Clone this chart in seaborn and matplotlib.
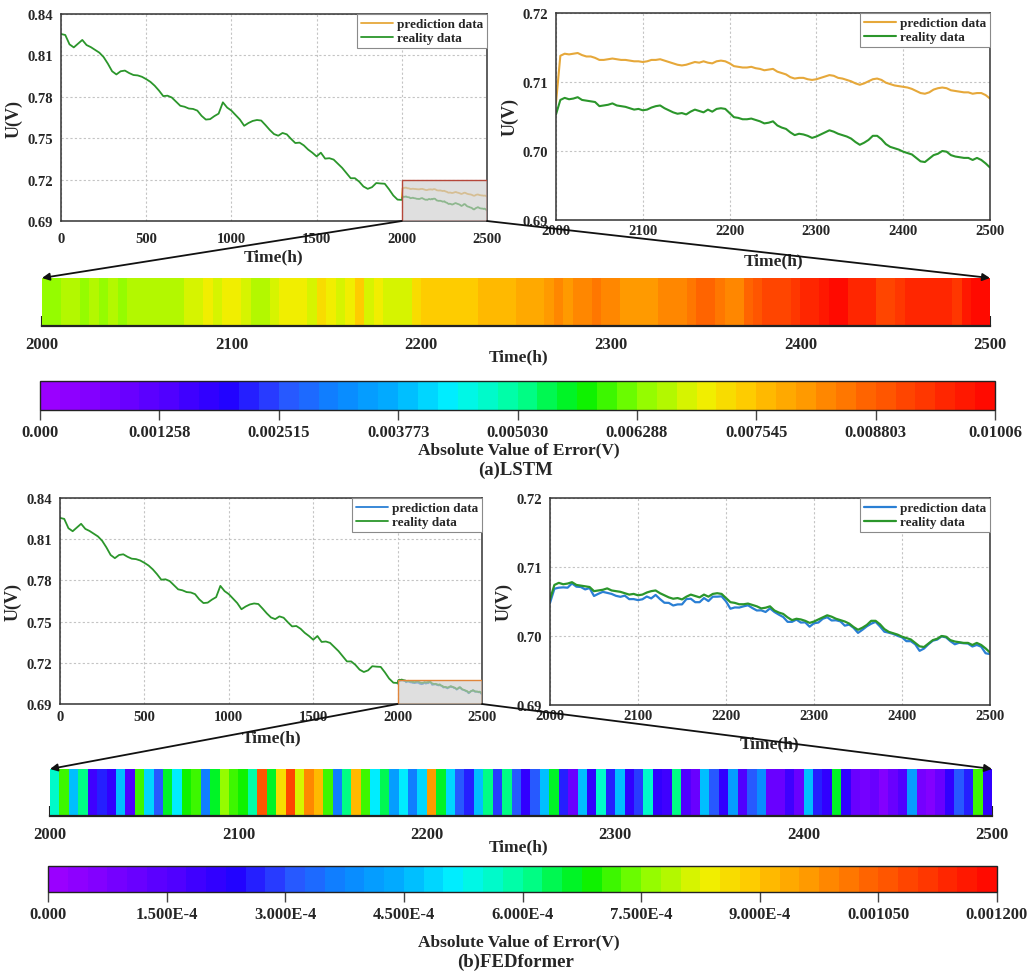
import numpy as np
import matplotlib
matplotlib.use("Agg")
import matplotlib.pyplot as plt
import seaborn as sns
from matplotlib.colors import LinearSegmentedColormap, ListedColormap, Normalize
from matplotlib.cm import ScalarMappable
from matplotlib.patches import Rectangle, ConnectionPatch

# ---------------------------------------------------------------- data
# Stack voltage, 0-1975 h (25 h spacing)
hours_coarse = np.arange(0, 2000, 25)
voltage_coarse = [
    0.8255, 0.8248, 0.8180, 0.8158, 0.8185, 0.8212, 0.8175, 0.8160, 0.8140, 0.8120,
    0.8088, 0.8040, 0.7985, 0.7962, 0.7985, 0.7990, 0.7972, 0.7958, 0.7955, 0.7945,
    0.7928, 0.7908, 0.7880, 0.7845, 0.7805, 0.7808, 0.7795, 0.7765, 0.7735, 0.7728,
    0.7715, 0.7712, 0.7700, 0.7662, 0.7635, 0.7638, 0.7660, 0.7678, 0.7760, 0.7722,
    0.7700, 0.7668, 0.7635, 0.7590, 0.7610, 0.7625, 0.7632, 0.7628, 0.7595, 0.7560,
    0.7530, 0.7518, 0.7538, 0.7528, 0.7495, 0.7465, 0.7468, 0.7448, 0.7418, 0.7395,
    0.7368, 0.7395, 0.7352, 0.7355, 0.7345, 0.7315, 0.7285, 0.7248, 0.7210, 0.7210,
    0.7185, 0.7150, 0.7133, 0.7145, 0.7175, 0.7172, 0.7170, 0.7130, 0.7085, 0.7055,
]

# Test window 2000-2500 h (5 h spacing)
hours_test = np.arange(2000, 2501, 5)
voltage_test = [
    0.7053, 0.7074, 0.7077, 0.7075, 0.7076, 0.7078, 0.7074, 0.7073, 0.7072, 0.7071,
    0.7065, 0.7066, 0.7067, 0.7069, 0.7066, 0.7065, 0.7064, 0.7062, 0.7060, 0.7061,
    0.7059, 0.7060, 0.7063, 0.7065, 0.7066, 0.7062, 0.7059, 0.7056, 0.7054, 0.7055,
    0.7053, 0.7057, 0.7060, 0.7058, 0.7056, 0.7060, 0.7057, 0.7061, 0.7062, 0.7061,
    0.7055, 0.7049, 0.7048, 0.7046, 0.7046, 0.7047, 0.7045, 0.7043, 0.7040, 0.7041,
    0.7043, 0.7037, 0.7034, 0.7032, 0.7027, 0.7023, 0.7025, 0.7024, 0.7022, 0.7019,
    0.7021, 0.7024, 0.7027, 0.7030, 0.7028, 0.7025, 0.7023, 0.7021, 0.7018, 0.7013,
    0.7009, 0.7012, 0.7016, 0.7022, 0.7022, 0.7017, 0.7010, 0.7006, 0.7004, 0.7002,
    0.6999, 0.6997, 0.6995, 0.6990, 0.6985, 0.6984, 0.6989, 0.6994, 0.6996, 0.7000,
    0.6999, 0.6994, 0.6992, 0.6991, 0.6990, 0.6990, 0.6987, 0.6990, 0.6987, 0.6982,
    0.6976,
]
lstm_prediction = [
    0.7070, 0.7138, 0.7141, 0.7140, 0.7141, 0.7142, 0.7139, 0.7137, 0.7137, 0.7135,
    0.7132, 0.7132, 0.7133, 0.7134, 0.7133, 0.7132, 0.7132, 0.7131, 0.7130, 0.7130,
    0.7129, 0.7130, 0.7132, 0.7132, 0.7133, 0.7131, 0.7129, 0.7127, 0.7125, 0.7124,
    0.7125, 0.7127, 0.7129, 0.7128, 0.7130, 0.7128, 0.7127, 0.7130, 0.7131, 0.7130,
    0.7127, 0.7123, 0.7122, 0.7121, 0.7121, 0.7122, 0.7120, 0.7119, 0.7117, 0.7118,
    0.7119, 0.7115, 0.7113, 0.7111, 0.7107, 0.7105, 0.7106, 0.7106, 0.7104, 0.7103,
    0.7104, 0.7106, 0.7108, 0.7110, 0.7109, 0.7106, 0.7105, 0.7103, 0.7101, 0.7098,
    0.7096, 0.7098, 0.7101, 0.7104, 0.7105, 0.7103, 0.7099, 0.7097, 0.7095, 0.7094,
    0.7093, 0.7092, 0.7090, 0.7087, 0.7084, 0.7083, 0.7085, 0.7089, 0.7091, 0.7092,
    0.7091, 0.7088, 0.7087, 0.7086, 0.7085, 0.7085, 0.7083, 0.7084, 0.7084, 0.7081,
    0.7076,
]
# FEDformer absolute error over the same window (V)
fedformer_error = [
    0.00050,
    0.00055, 0.00070, 0.00045, 0.00060, 0.00018, 0.00025, 0.00020, 0.00045, 0.00015, 0.00070,
    0.00048, 0.00030, 0.00065, 0.00050, 0.00068, 0.00072, 0.00035, 0.00066, 0.00075, 0.00070,
    0.00068, 0.00058, 0.00105, 0.00065, 0.00085, 0.00108, 0.00080, 0.00098, 0.00092, 0.00072,
    0.00035, 0.00060, 0.00090, 0.00070, 0.00050, 0.00064, 0.00040, 0.00050, 0.00035, 0.00048,
    0.00095, 0.00066, 0.00048, 0.00030, 0.00025, 0.00045, 0.00060, 0.00028, 0.00062, 0.00030,
    0.00022, 0.00030, 0.00045, 0.00065, 0.00025, 0.00012, 0.00045, 0.00022, 0.00055, 0.00025,
    0.00045, 0.00020, 0.00028, 0.00055, 0.00022, 0.00018, 0.00060, 0.00015, 0.00012, 0.00045,
    0.00030, 0.00020, 0.00042, 0.00015, 0.00032, 0.00038, 0.00012, 0.00010, 0.00018, 0.00010,
    0.00045, 0.00025, 0.00020, 0.00065, 0.00022, 0.00010, 0.00008, 0.00012, 0.00006, 0.00010,
    0.00015, 0.00040, 0.00008, 0.00005, 0.00010, 0.00022, 0.00030, 0.00025, 0.00070, 0.00022,
]

overview_xticks = [0, 500, 1000, 1500, 2000, 2500]
overview_yticks = [0.69, 0.72, 0.75, 0.78, 0.81, 0.84]
detail_xticks = [2000, 2100, 2200, 2300, 2400, 2500]
detail_yticks = [0.69, 0.70, 0.71, 0.72]

lstm_vmax = 0.01006
lstm_cbar_labels = ["0.000", "0.001258", "0.002515", "0.003773", "0.005030",
                    "0.006288", "0.007545", "0.008803", "0.01006"]
fed_vmax = 0.0012
fed_cbar_labels = ["0.000", "1.500E-4", "3.000E-4", "4.500E-4", "6.000E-4",
                   "7.500E-4", "9.000E-4", "0.001050", "0.001200"]

hours_full = np.concatenate([hours_coarse, hours_test])
voltage_full = np.concatenate([voltage_coarse, voltage_test])
voltage_test = np.asarray(voltage_test)
lstm_prediction = np.asarray(lstm_prediction)
fedformer_error = np.asarray(fedformer_error)
fed_prediction = voltage_test - fedformer_error
lstm_error = np.abs(lstm_prediction - voltage_test)

# ---------------------------------------------------------------- style
sns.set_style("white")
plt.rcParams["font.family"] = ["Liberation Serif", "DejaVu Serif"]
plt.rcParams["font.weight"] = "bold"
plt.rcParams["axes.labelweight"] = "bold"

GREEN = "#2b962b"
GOLD = "#e6a83a"
BLUE = "#2a7fd4"

cmap_nodes = [
    (0.000, "#9a00ff"), (0.125, "#5000ff"), (0.190, "#2200ff"), (0.250, "#2a55ff"),
    (0.310, "#0a88ff"), (0.375, "#00b4ff"), (0.430, "#00f5ff"), (0.500, "#00ff9a"),
    (0.570, "#00f000"), (0.625, "#80ff00"), (0.700, "#f0f000"), (0.750, "#ffc800"),
    (0.875, "#ff6400"), (1.000, "#ff0a00"),
]
smooth = LinearSegmentedColormap.from_list("err", cmap_nodes)
error_cmap = ListedColormap(smooth(np.linspace(0, 1, 48)))

W, H = 1027, 978
fig = plt.figure(figsize=(W / 100, H / 100), dpi=100)


def px_box(x0, y0, x1, y1):
    return [x0 / W, 1 - y1 / H, (x1 - x0) / W, (y1 - y0) / H]


def style_panel(ax, xticks, yticks, yfmt, xpad):
    ax.set_xticks(xticks)
    ax.set_yticks(yticks)
    ax.set_xticklabels([str(t) for t in xticks])
    ax.set_yticklabels([yfmt.format(t) for t in yticks])
    ax.grid(True, color="#c4c4c4", linestyle=(0, (2, 2)), linewidth=0.8)
    ax.tick_params(length=0, labelsize=10.5, pad=6)
    ax.tick_params(axis="x", pad=xpad)
    for s in ax.spines.values():
        s.set_color("#333333")
        s.set_linewidth(1.1)
    ax.set_xlabel("Time(h)", fontsize=12.5, fontweight="bold")
    ax.set_ylabel("U(V)", fontsize=13, fontweight="bold")
    leg = ax.legend(loc="upper right", borderaxespad=0, fancybox=False,
                    edgecolor="#8a8a8a", framealpha=1, handlelength=2.4,
                    handletextpad=0.3, borderpad=0.3, labelspacing=0.15,
                    prop={"weight": "bold", "size": 9.5})
    leg.get_frame().set_linewidth(0.8)


def overview(ax, pred, pred_color, box_top, box_edge, xpad, xlab_y):
    sns.lineplot(x=hours_test, y=pred, ax=ax, color=pred_color, lw=1.3,
                 label="prediction data", estimator=None)
    sns.lineplot(x=hours_full, y=voltage_full, ax=ax, color=GREEN, lw=1.3,
                 label="reality data", estimator=None)
    ax.add_patch(Rectangle((2000, 0.69), 500, box_top - 0.69,
                           facecolor=(0.80, 0.80, 0.80, 0.62),
                           edgecolor=box_edge, lw=1.0, zorder=5))
    ax.set_xlim(0, 2500)
    ax.set_ylim(0.69, 0.84)
    style_panel(ax, overview_xticks, overview_yticks, "{:.2f}", xpad)
    ax.xaxis.set_label_coords(0.5, xlab_y)
    ax.yaxis.set_label_coords(-0.09, 0.5)


def detail(ax, pred, pred_color, xpad, xlab_y, lw):
    sns.lineplot(x=hours_test, y=pred, ax=ax, color=pred_color, lw=lw,
                 label="prediction data", estimator=None)
    sns.lineplot(x=hours_test, y=voltage_test, ax=ax, color=GREEN, lw=lw,
                 label="reality data", estimator=None)
    ax.set_xlim(2000, 2500)
    ax.set_ylim(0.69, 0.72)
    style_panel(ax, detail_xticks, detail_yticks, "{:.2f}", xpad)
    ax.xaxis.set_label_coords(0.5, xlab_y)
    ax.yaxis.set_label_coords(-0.086, 0.5)


def error_strip(ax, err, vmax, label_y):
    cells = np.asarray(err)[1:][None, :]
    sns.heatmap(cells, ax=ax, cmap=error_cmap, vmin=0, vmax=vmax, cbar=False,
                xticklabels=False, yticklabels=False)
    n = cells.shape[1]
    ax.set_xticks([(t - 2000) / 500 * n for t in detail_xticks])
    ax.set_xticklabels([str(t) for t in detail_xticks])
    ax.spines["bottom"].set_visible(True)
    ax.spines["bottom"].set_linewidth(1.6)
    ax.spines["bottom"].set_color("#222222")
    ax.tick_params(axis="x", bottom=True, direction="in", length=7, width=1.5,
                   color="#222222", pad=7, labelsize=12)
    fig.text(0.505, label_y, "Time(h)", ha="center", va="center",
             fontsize=12.5, fontweight="bold")


def error_colorbar(cax, vmax, labels, label_y, title, title_y):
    sm = ScalarMappable(norm=Normalize(0, vmax), cmap=error_cmap)
    cb = fig.colorbar(sm, cax=cax, orientation="horizontal")
    cb.set_ticks(np.linspace(0, vmax, len(labels)))
    cb.set_ticklabels(labels)
    cb.outline.set_linewidth(1.0)
    cb.outline.set_edgecolor("#222222")
    cax.tick_params(length=7, width=1, pad=3, labelsize=12, color="#444444")
    fig.text(0.505, label_y, "Absolute Value of Error(V)", ha="center",
             va="center", fontsize=12.5, fontweight="bold")
    fig.text(0.502, title_y, title, ha="center", va="center",
             fontsize=13.5, fontweight="bold")


def zoom_arrows(ax_from, ax_to):
    for xa, xb in ((2000, 0), (2500, 1)):
        con = ConnectionPatch(xyA=(xa, 0.69), coordsA=ax_from.transData,
                              xyB=(xb, 1), coordsB=ax_to.transAxes,
                              arrowstyle="-|>", mutation_scale=11, lw=1.3,
                              color="#111111", zorder=20)
        fig.add_artist(con)


# ---------------------------------------------------------------- (a) LSTM
ax_a1 = fig.add_axes(px_box(61, 15, 487, 222))
ax_a2 = fig.add_axes(px_box(556, 14, 990, 221))
ax_a3 = fig.add_axes(px_box(42, 279, 990, 327))
ax_a4 = fig.add_axes(px_box(40, 382, 995, 411))

overview(ax_a1, lstm_prediction, GOLD, 0.72, "#b5473a", 8, -0.13)
detail(ax_a2, lstm_prediction, GOLD, 3, -0.155, 1.5)
error_strip(ax_a3, lstm_error, lstm_vmax, 1 - 357 / H)
error_colorbar(ax_a4, lstm_vmax, lstm_cbar_labels, 1 - 450 / H, "(a)LSTM", 1 - 470 / H)
zoom_arrows(ax_a1, ax_a3)

# ---------------------------------------------------------------- (b) FEDformer
ax_b1 = fig.add_axes(px_box(60, 499, 482, 705))
ax_b2 = fig.add_axes(px_box(550, 499, 990, 706))
ax_b3 = fig.add_axes(px_box(50, 770, 992, 817))
ax_b4 = fig.add_axes(px_box(48, 867, 997, 893))

overview(ax_b1, fed_prediction, BLUE, voltage_test.max(), "#e0853a", 4, -0.125)
detail(ax_b2, fed_prediction, BLUE, 3, -0.145, 1.6)
error_strip(ax_b3, fedformer_error, fed_vmax, 1 - 847 / H)
error_colorbar(ax_b4, fed_vmax, fed_cbar_labels, 1 - 942 / H, "(b)FEDformer", 1 - 962 / H)
zoom_arrows(ax_b1, ax_b3)

fig.savefig("out.png", dpi=100)
